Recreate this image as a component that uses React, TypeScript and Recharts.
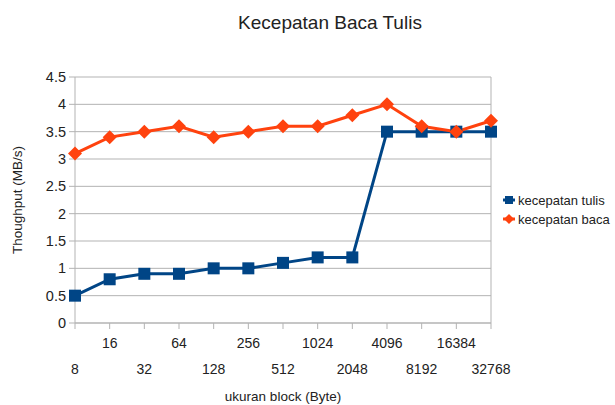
import React from "react";
import {
  LineChart,
  Line,
  CartesianGrid,
  XAxis,
  YAxis,
  ReferenceLine,
} from "recharts";

const blockSizes = ["8", "16", "32", "64", "128", "256", "512", "1024", "2048", "4096", "8192", "16384", "32768"];
const tulis = [0.5, 0.8, 0.9, 0.9, 1.0, 1.0, 1.1, 1.2, 1.2, 3.5, 3.5, 3.5, 3.5];
const baca = [3.1, 3.4, 3.5, 3.6, 3.4, 3.5, 3.6, 3.6, 3.8, 4.0, 3.6, 3.5, 3.7];
const yTicks = [0, 0.5, 1, 1.5, 2, 2.5, 3, 3.5, 4, 4.5];

const BLUE = "#004586";
const ORANGE = "#ff420e";
const GRID = "#b3b3b3";
const FONT = "'Liberation Sans', Arial, sans-serif";

const data = blockSizes.map((size, i) => ({
  size,
  tulis: tulis[i],
  baca: baca[i],
}));

const SquareDot = (props: any) => {
  const { cx, cy } = props;
  if (cx == null || cy == null) return null;
  return <rect x={cx - 6} y={cy - 6} width={12} height={12} fill={BLUE} />;
};

const DiamondDot = (props: any) => {
  const { cx, cy } = props;
  if (cx == null || cy == null) return null;
  return (
    <polygon
      points={`${cx},${cy - 7} ${cx + 7},${cy} ${cx},${cy + 7} ${cx - 7},${cy}`}
      fill={ORANGE}
    />
  );
};

// staggered labels: odd ones on the upper row
const StaggerTick = (props: any) => {
  const { x, y, payload, index } = props;
  const dy = index % 2 === 1 ? 19 : 45;
  return (
    <text
      x={x}
      y={y}
      dy={dy}
      textAnchor="middle"
      fontSize={14}
      fontFamily={FONT}
      fill="#222"
    >
      {payload.value}
    </text>
  );
};

const YLabel = (props: any) => {
  const { viewBox } = props;
  const cy = viewBox.y + viewBox.height / 2;
  return (
    <text
      x={22}
      y={cy}
      transform={`rotate(-90 22 ${cy})`}
      textAnchor="middle"
      fontSize={13.5}
      fontFamily={FONT}
      fill="#222"
    >
      Thoughput (MB/s)
    </text>
  );
};

const LegendBox = () => (
  <svg width={112} height={44} style={{ position: "absolute", left: 502, top: 191 }}>
    <line x1={1} y1={9} x2={13} y2={9} stroke={BLUE} strokeWidth={3} />
    <rect x={3} y={5} width={8} height={8} fill={BLUE} />
    <text x={16} y={14} fontSize={13} fontFamily={FONT} fill="#222">
      kecepatan tulis
    </text>
    <line x1={1} y1={28} x2={13} y2={28} stroke={ORANGE} strokeWidth={3} />
    <polygon points="7,23 12,28 7,33 2,28" fill={ORANGE} />
    <text x={16} y={33} fontSize={13} fontFamily={FONT} fill="#222">
      kecepatan baca
    </text>
  </svg>
);

export default function App() {
  return (
    <div
      style={{
        position: "absolute",
        left: 0,
        top: 0,
        width: 615,
        height: 405,
        background: "#fff",
        fontFamily: FONT,
      }}
    >
      <div
        style={{
          position: "absolute",
          top: 12,
          left: 0,
          width: 660,
          textAlign: "center",
          fontSize: 19,
          color: "#222",
        }}
      >
        Kecepatan Baca Tulis
      </div>
      <LineChart
        width={615}
        height={405}
        data={data}
        margin={{ top: 77, right: 124, bottom: 0, left: 0 }}
      >
        <CartesianGrid stroke={GRID} vertical={false} />
        <XAxis
          dataKey="size"
          height={82}
          padding={{ left: 0, right: 0 }}
          interval={0}
          stroke={GRID}
          tickSize={6}
          tickMargin={0}
          tick={<StaggerTick />}
          label={{
            value: "ukuran block (Byte)",
            position: "insideBottom",
            offset: 4,
            fontSize: 13.5,
            fontFamily: FONT,
            fill: "#222",
          }}
        />
        <YAxis
          width={75}
          domain={[0, 4.5]}
          ticks={yTicks}
          interval={0}
          stroke={GRID}
          tickSize={6}
          tickMargin={3}
          tick={{ fontSize: 14.5, fontFamily: FONT, fill: "#222" }}
          label={<YLabel />}
        />
        <ReferenceLine x="32768" stroke={GRID} />
        <Line
          dataKey="tulis"
          stroke={BLUE}
          strokeWidth={3}
          dot={<SquareDot />}
          activeDot={false}
          isAnimationActive={false}
        />
        <Line
          dataKey="baca"
          stroke={ORANGE}
          strokeWidth={3}
          dot={<DiamondDot />}
          activeDot={false}
          isAnimationActive={false}
        />
      </LineChart>
      <LegendBox />
    </div>
  );
}
